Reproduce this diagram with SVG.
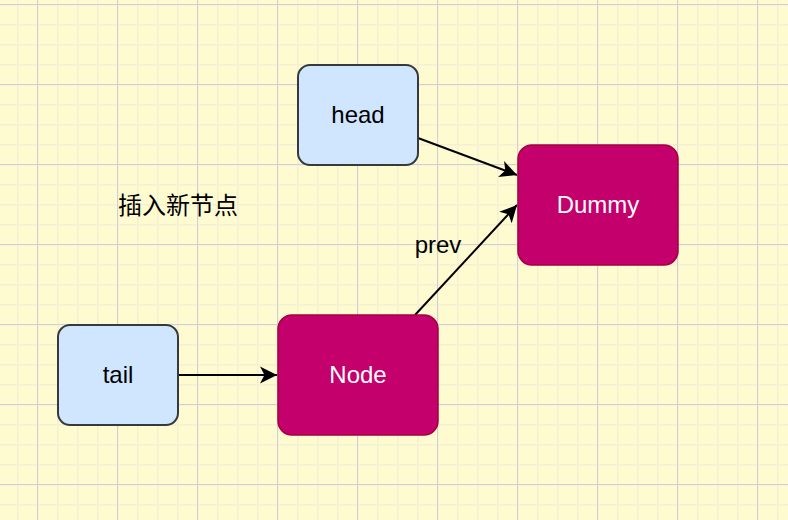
<svg xmlns="http://www.w3.org/2000/svg" width="788" height="520" viewBox="0 0 788 520">
<style>
.lbl{font-family:"Liberation Sans",Arial,sans-serif;font-size:24px;text-anchor:middle}
.blue{fill:#d0e6ff;stroke:#36393d;stroke-width:2}
.mag{fill:#c4006c;stroke:#a50040;stroke-width:1.5}
.edge{fill:none;stroke:#000;stroke-width:2}
</style>
<defs>
<pattern id="minor" x="17" y="4" width="20" height="20" patternUnits="userSpaceOnUse">
<rect x="0" y="0" width="20" height="20" fill="#fffbd0"/>
<rect x="0" y="0" width="1.5" height="20" fill="#f5efd3"/>
<rect x="0" y="0" width="20" height="1.5" fill="#f5efd3"/>
</pattern>
<pattern id="major" x="37" y="4" width="80" height="80" patternUnits="userSpaceOnUse">
<rect x="0" y="0" width="1" height="80" fill="#d0cfd8"/>
<rect x="0" y="0" width="80" height="1" fill="#d0cfd8"/>
</pattern>
<marker id="arr" viewBox="-18 -9 20 18" refX="0" refY="0" markerWidth="20" markerHeight="18" markerUnits="userSpaceOnUse" orient="auto">
<path d="M0,0 L-17,-8.5 L-12.5,0 L-17,8.5 Z" fill="#000"/>
</marker>
</defs>
<rect width="788" height="520" fill="url(#minor)"/>
<rect width="788" height="520" fill="url(#major)"/>
<g id="connectors">
<line class="edge" x1="418" y1="138" x2="517" y2="175" marker-end="url(#arr)"/>
<line class="edge" x1="415" y1="315" x2="517" y2="205" marker-end="url(#arr)"/>
<line class="edge" x1="178" y1="375" x2="277" y2="375" marker-end="url(#arr)"/>
<text class="lbl" x="438" y="253" fill="#000">prev</text>
</g>
<g id="head">
<rect class="blue" x="298" y="65" width="120" height="100" rx="12"/>
<text class="lbl" x="358" y="123" fill="#000">head</text>
</g>
<g id="dummy">
<rect class="mag" x="518" y="145" width="160" height="120" rx="14"/>
<text class="lbl" x="598" y="213" fill="#fff">Dummy</text>
</g>
<g id="tail">
<rect class="blue" x="58" y="325" width="120" height="100" rx="12"/>
<text class="lbl" x="118" y="383" fill="#000">tail</text>
</g>
<g id="node">
<rect class="mag" x="278" y="315" width="160" height="120" rx="14"/>
<text class="lbl" x="358" y="383" fill="#fff">Node</text>
</g>
<g id="title">
<text x="178" y="214" style="font-family:'Liberation Sans','Noto Sans CJK SC',sans-serif;font-size:24px;text-anchor:middle" fill="#000">插入新节点</text>
</g>
</svg>
